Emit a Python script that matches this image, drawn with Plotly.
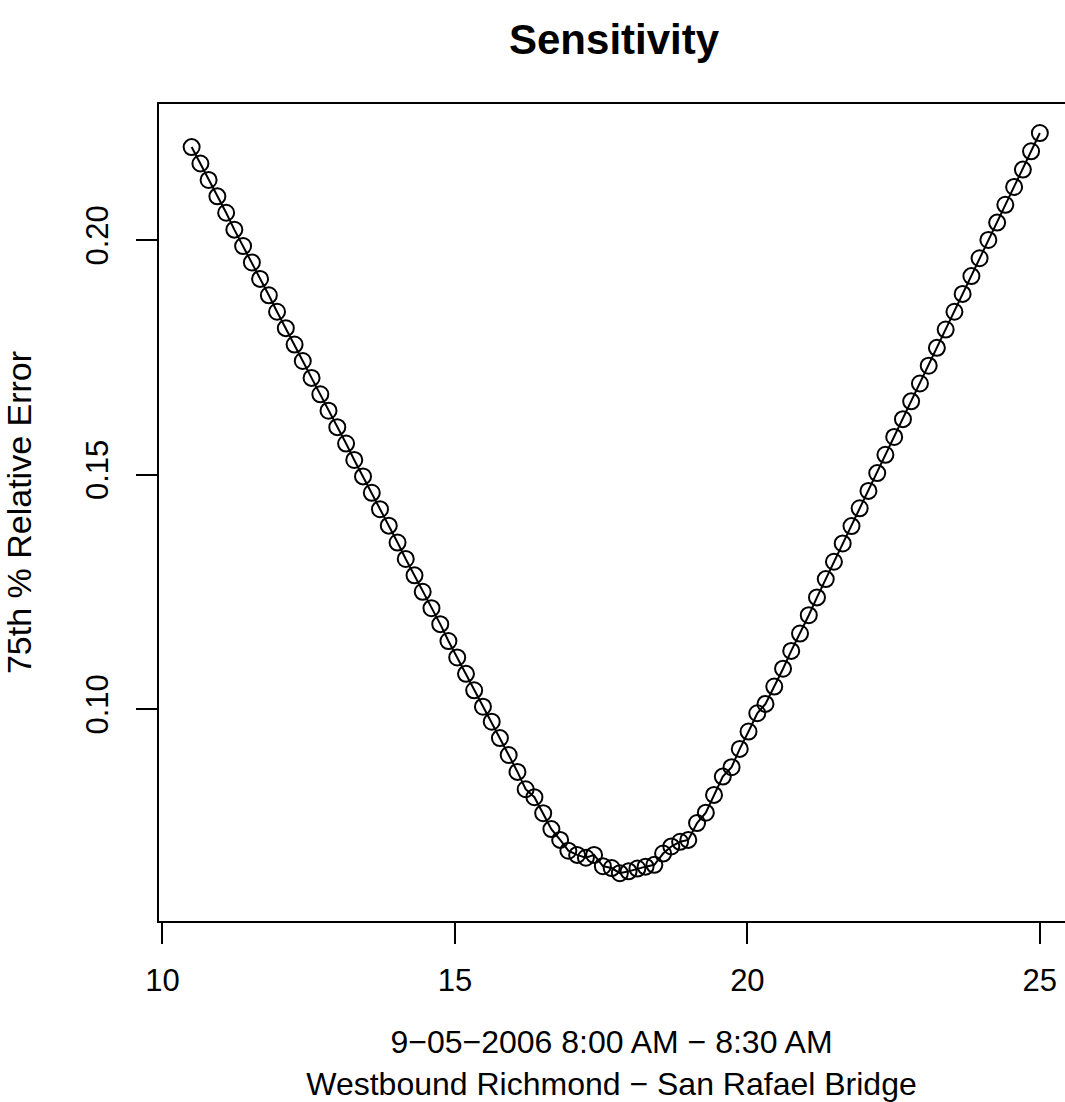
import plotly.graph_objects as go

title_text = "Sensitivity"
x_title_lines = ["9\u221205\u22122006 8:00 AM \u2212 8:30 AM", "Westbound Richmond \u2212 San Rafael Bridge"]
y_title = "75th % Relative Error"

x_vals = [10.50, 10.65, 10.79, 10.94, 11.09, 11.23, 11.38, 11.53, 11.67, 11.82,
          11.96, 12.11, 12.26, 12.40, 12.55, 12.70, 12.84, 12.99, 13.14, 13.28,
          13.43, 13.58, 13.72, 13.87, 14.02, 14.16, 14.31, 14.45, 14.60, 14.75,
          14.89, 15.04, 15.19, 15.33, 15.48, 15.63, 15.77, 15.92, 16.07, 16.21,
          16.36, 16.51, 16.65, 16.80, 16.94, 17.09, 17.24, 17.38, 17.53, 17.68,
          17.82, 17.97, 18.12, 18.26, 18.41, 18.56, 18.70, 18.85, 18.99, 19.14,
          19.29, 19.43, 19.58, 19.73, 19.87, 20.02, 20.17, 20.31, 20.46, 20.61,
          20.75, 20.90, 21.05, 21.19, 21.34, 21.48, 21.63, 21.78, 21.92, 22.07,
          22.22, 22.36, 22.51, 22.66, 22.80, 22.95, 23.10, 23.24, 23.39, 23.54,
          23.68, 23.83, 23.97, 24.12, 24.27, 24.41, 24.56, 24.71, 24.85, 25.00]

y_vals = [0.2198, 0.2163, 0.2128, 0.2093, 0.2058, 0.2022, 0.1987, 0.1952, 0.1917, 0.1882,
          0.1847, 0.1812, 0.1777, 0.1742, 0.1706, 0.1671, 0.1636, 0.1601, 0.1566, 0.1531,
          0.1496, 0.1461, 0.1426, 0.1391, 0.1355, 0.1320, 0.1285, 0.1250, 0.1215, 0.1181,
          0.1145, 0.1110, 0.1075, 0.1040, 0.1005, 0.0973, 0.0938, 0.0902, 0.0866, 0.0829,
          0.0812, 0.0778, 0.0744, 0.0721, 0.0698, 0.0689, 0.0683, 0.0689, 0.0665, 0.0661,
          0.0650, 0.0654, 0.0660, 0.0664, 0.0668, 0.0692, 0.0707, 0.0717, 0.0721, 0.0757,
          0.0779, 0.0817, 0.0856, 0.0876, 0.0915, 0.0952, 0.0991, 0.1011, 0.1048, 0.1086,
          0.1124, 0.1161, 0.1200, 0.1238, 0.1277, 0.1314, 0.1353, 0.1390, 0.1428, 0.1465,
          0.1503, 0.1542, 0.1580, 0.1618, 0.1656, 0.1694, 0.1732, 0.1770, 0.1809, 0.1847,
          0.1885, 0.1923, 0.1961, 0.2000, 0.2037, 0.2075, 0.2113, 0.2150, 0.2189, 0.2228]

x_ticks = [10, 15, 20, 25]
x_tick_labels = ["10", "15", "20", "25"]
y_ticks = [0.10, 0.15, 0.20]
y_tick_labels = ["0.10", "0.15", "0.20"]

FONT = "Liberation Sans, Arial, sans-serif"

fig = go.Figure()
fig.add_trace(go.Scatter(
    x=x_vals, y=y_vals, mode="lines+markers",
    line=dict(color="black", width=2),
    marker=dict(symbol="circle-open", size=16, color="black", line=dict(width=2, color="black")),
    showlegend=False, cliponaxis=False,
))

fig.update_layout(
    width=1065, height=1102,
    margin=dict(l=158, r=0, t=103, b=180, autoexpand=False),
    paper_bgcolor="white", plot_bgcolor="white",
    font=dict(family=FONT, size=31, color="black"),
    xaxis=dict(
        range=[9.925, 25.43], tickmode="array", tickvals=x_ticks, ticktext=x_tick_labels,
        ticks="outside", ticklen=21, tickwidth=2, tickcolor="black",
        showgrid=False, zeroline=False, showline=False, automargin=False,
        tickfont=dict(size=31, family=FONT), ticklabelstandoff=10,
        title=dict(text="<br>".join(x_title_lines), font=dict(size=32, family=FONT), standoff=33),
    ),
    yaxis=dict(
        range=[0.0546, 0.2292], tickmode="array", tickvals=y_ticks, ticktext=y_tick_labels,
        ticks="outside", ticklen=21, tickwidth=2, tickcolor="black", tickangle=-90,
        showgrid=False, zeroline=False, showline=False, automargin=False,
        tickfont=dict(size=31, family=FONT), ticklabelstandoff=16,
        title=dict(text=y_title, font=dict(size=34, family=FONT), standoff=38),
    ),
    shapes=[dict(type="rect", xref="paper", yref="paper", x0=0, x1=1.05, y0=0, y1=1,
                 line=dict(color="black", width=2), layer="above")],
    annotations=[dict(text="<b>" + title_text + "</b>", xref="paper", yref="paper",
                      x=0.503, y=1.077, xanchor="center", yanchor="middle", showarrow=False,
                      font=dict(size=42, family=FONT, color="black"))],
)

fig.write_html("out.html", config={"displayModeBar": False},
               post_script="document.body.style.margin='0';document.body.style.padding='0';")
